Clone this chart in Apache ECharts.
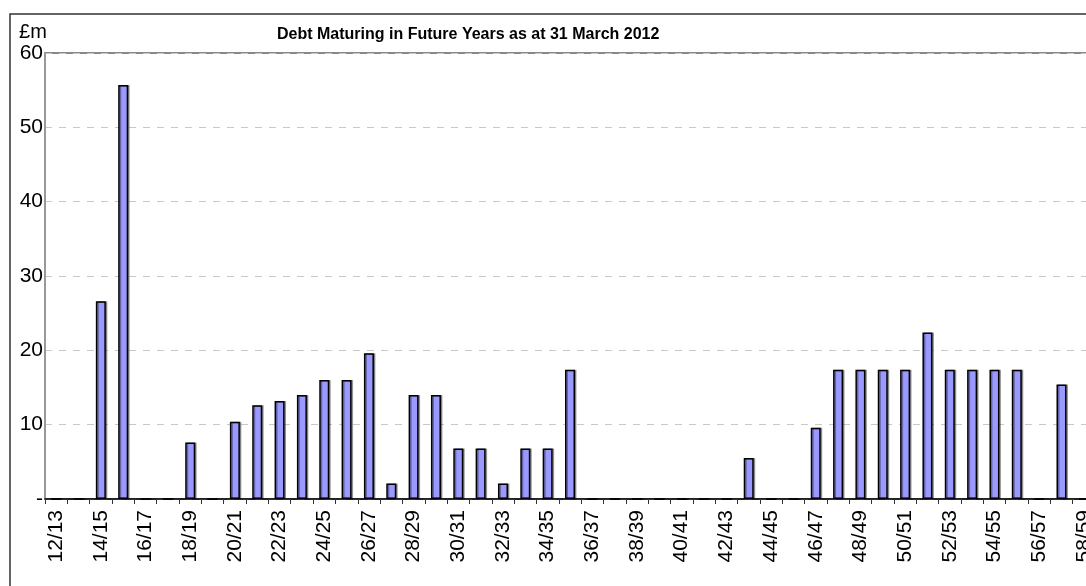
<!DOCTYPE html>
<html>
<head>
<meta charset="utf-8">
<title>Debt Maturing in Future Years</title>
<script src="https://cdn.jsdelivr.net/npm/echarts@6/dist/echarts.min.js"></script>
<style>
  html, body { margin: 0; padding: 0; background: #fff; }
  #main { width: 1086px; height: 586px; }
</style>
</head>
<body>
<div id="main"></div>
<script>
// financial years 12/13 .. 58/59
var years = [];
for (var y = 12; y <= 58; y++) {
    years.push(y + '/' + (y + 1));
}

// debt maturing, £m (0 = nothing maturing)
var debt = [
    0, 0, 26.6, 55.7, 0, 0, 7.6, 0, 10.4, 12.6,      // 12/13 - 21/22
    13.2, 14.0, 16.0, 16.0, 19.6, 2.1, 14.0, 14.0, 6.8, 6.8,   // 22/23 - 31/32
    2.1, 6.8, 6.8, 17.4, 0, 0, 0, 0, 0, 0,           // 32/33 - 41/42
    0, 5.5, 0, 0, 9.6, 17.4, 17.4, 17.4, 17.4, 22.4, // 42/43 - 51/52
    17.4, 17.4, 17.4, 17.4, 0, 15.4, 0               // 52/53 - 58/59
];

var yTicks = [0, 60, 10]; // min, max, step

var myChart = echarts.init(document.getElementById('main'));
myChart.setOption({
    animation: false,
    textStyle: { fontFamily: 'Liberation Sans, Arial, sans-serif' },
    title: {
        text: 'Debt Maturing in Future Years as at 31 March 2012',
        left: 272,
        top: 22,
        textStyle: { fontSize: 16, fontWeight: 'bold', color: '#000' }
    },
    // outer chart frame
    graphic: [{
        type: 'rect',
        shape: { x: 10, y: 14, width: 1200, height: 700 },
        style: { fill: 'none', stroke: '#333', lineWidth: 1.5 },
        silent: true
    }],
    grid: {
        left: 45,
        top: 53,
        width: 1050,
        height: 446,
        outerBoundsMode: 'none',
        containLabel: false,
        show: true,
        borderColor: '#888',
        borderWidth: 2,
        backgroundColor: 'transparent'
    },
    xAxis: {
        type: 'category',
        data: years,
        boundaryGap: true,
        axisLine: { lineStyle: { color: '#000', width: 1.5 } },
        axisTick: { show: true, interval: 0, length: 5, lineStyle: { color: '#333' } },
        axisLabel: {
            interval: 1,
            rotate: 90,
            margin: 11,
            fontSize: 21,
            color: '#000'
        }
    },
    yAxis: {
        type: 'value',
        min: yTicks[0],
        max: yTicks[1],
        interval: yTicks[2],
        name: '£m',
        nameLocation: 'end',
        nameGap: 4,
        nameTextStyle: { fontSize: 20, color: '#000', align: 'center', padding: [0, 24, 0, 0] },
        axisLine: { show: true, lineStyle: { color: '#999', width: 2 } },
        axisTick: { show: false },
        axisLabel: {
            fontSize: 21,
            color: '#000',
            margin: 2,
            formatter: function (v) { return v === 0 ? '-' : v; }
        },
        splitLine: { lineStyle: { color: '#c8c8c8', type: [7, 7], width: 1 } }
    },
    series: [{
        type: 'bar',
        data: debt,
        barWidth: 10,
        itemStyle: {
            color: '#9999ff',
            borderColor: '#000',
            borderWidth: 1.5,
            shadowColor: 'rgba(0,0,0,0.35)',
            shadowOffsetX: 1.5,
            shadowBlur: 0
        }
    }]
});
</script>
</body>
</html>
